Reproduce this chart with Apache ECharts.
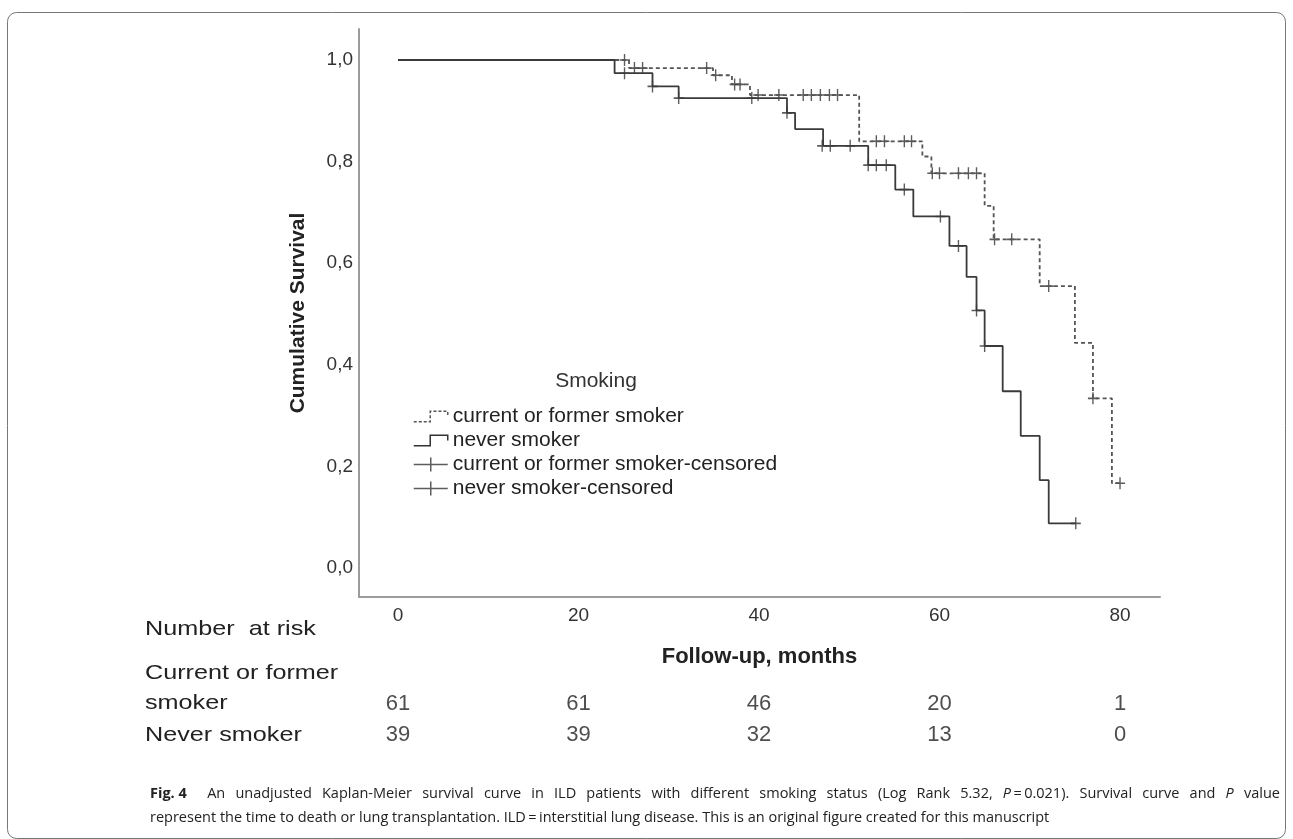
<!DOCTYPE html>
<html><head><meta charset="utf-8">
<script src="https://cdn.jsdelivr.net/npm/echarts@6/dist/echarts.min.js"></script>
<style>html,body{margin:0;padding:0;background:#fff}#c{width:1293px;height:839px}</style>
</head><body><div id="c"></div>
<script>
// Kaplan-Meier step curves (time in months, cumulative survival)
const currentTimes = [0, 25.6, 34.9, 37.0, 39.0, 51.1, 58.1, 59.1, 65.0, 66.0, 71.1, 75.0, 77.0, 79.1, 80.0];
const currentSurv  = [1.0, 0.984, 0.970, 0.952, 0.931, 0.840, 0.810, 0.777, 0.713, 0.647, 0.555, 0.443, 0.334, 0.167, 0.167];
const neverTimes = [0, 24.0, 28.2, 31.1, 43.1, 44.0, 47.1, 52.1, 55.1, 57.1, 61.1, 63.0, 64.1, 65.0, 67.0, 69.0, 71.1, 72.1, 75.1];
const neverSurv  = [1.0, 0.974, 0.948, 0.925, 0.896, 0.864, 0.831, 0.793, 0.745, 0.692, 0.634, 0.573, 0.507, 0.437, 0.348, 0.260, 0.173, 0.088, 0.088];
// censored observations
const currentCensTimes = [25.1, 26.2, 27.1, 34.2, 35.2, 37.3, 37.9, 39.9, 42.2, 44.9, 45.8, 46.8, 47.8, 48.7, 53.0, 53.9, 56.1, 56.9, 59.2, 60.0, 62.1, 63.2, 64.1, 66.1, 68.0, 72.1, 77.0, 80.0];
const currentCensSurv  = [1.0, 0.984, 0.984, 0.984, 0.970, 0.952, 0.952, 0.931, 0.931, 0.931, 0.931, 0.931, 0.931, 0.931, 0.840, 0.840, 0.840, 0.840, 0.777, 0.777, 0.777, 0.777, 0.777, 0.647, 0.647, 0.555, 0.334, 0.167];
const neverCensTimes = [25.1, 28.2, 31.1, 39.2, 43.1, 47.0, 47.9, 50.1, 52.1, 53.0, 54.1, 56.1, 60.1, 62.1, 64.1, 65.0, 75.1];
const neverCensSurv  = [0.974, 0.948, 0.925, 0.925, 0.896, 0.831, 0.831, 0.831, 0.793, 0.793, 0.793, 0.745, 0.692, 0.634, 0.507, 0.437, 0.088];
// axis ticks
const xTicks = [0, 20, 40, 60, 80];
const yTicks = [0, 0.2, 0.4, 0.6, 0.8, 1.0];
// number at risk
const riskTimes = [0, 20, 40, 60, 80];
const currentRisk = [61, 61, 46, 20, 1];
const neverRisk = [39, 39, 32, 13, 0];

const zip = (a, b) => a.map((v, i) => [v, b[i]]);
const SANS = "'Liberation Sans', Arial, sans-serif";
const CAP = "'Open Sans', 'Noto Sans', sans-serif";
const plusSym = 'path://M5,0 L5,12 M0,6 L10,6';
const stepIcon = 'path://M0,11 L16,11 L16,1 L33,1 L33,6';
const censIcon = 'path://M0,7 L34,7 M17,0 L17,14';
const XMIN = -4.32, XMAX = 84.43;

// caption: first line justified between x=150 and x=1280
const capFs = 14.5;
const line1 = [
  [['b', 'Fig. 4']], [['n', 'An']], [['n', 'unadjusted']], [['n', 'Kaplan-Meier']], [['n', 'survival']], [['n', 'curve']],
  [['n', 'in']], [['n', 'ILD']], [['n', 'patients']], [['n', 'with']], [['n', 'different']], [['n', 'smoking']],
  [['n', 'status']], [['n', '(Log']], [['n', 'Rank']], [['n', '5.32,']], [['i', 'P'], ['n', '\u2009=\u20090.021).']],
  [['n', 'Survival']], [['n', 'curve']], [['n', 'and']], [['i', 'P']], [['n', 'value']]
];
const ctx = document.createElement('canvas').getContext('2d');
const fontOf = k => (k === 'b' ? 'bold ' : k === 'i' ? 'italic ' : '') + capFs + "px 'Open Sans'";
let natural = 0;
line1.forEach(w => w.forEach(([k, t]) => { ctx.font = fontOf(k); natural += ctx.measureText(t).width; }));
const gaps = line1.length - 1 + 1; // extra gap after "Fig. 4"
const gapW = Math.max(3, (1130 - natural) / gaps);
const line1Text = line1.map((w, i) => w.map(([k, t]) => '{' + k + '|' + t + '}').join('') + (i === 0 ? '{g|\u00a0}' : '')).join('{g|\u00a0}');

const chart = echarts.init(document.getElementById('c'), null, {renderer: 'canvas'});
chart.setOption({
  animation: false,
  backgroundColor: '#fff',
  grid: [
    {left: 359, right: 133, top: 29, bottom: 242},
    {left: 359, right: 133, top: 688, height: 62}
  ],
  xAxis: [{
    type: 'value', gridIndex: 0, min: XMIN, max: XMAX,
    axisLine: {show: true, onZero: false, lineStyle: {color: '#9c9c9c', width: 2}},
    axisTick: {show: false}, splitLine: {show: false},
    axisLabel: {customValues: xTicks, margin: 9, fontSize: 19, fontFamily: SANS, color: '#333'},
    name: 'Follow-up, months', nameLocation: 'middle', nameGap: 49,
    nameTextStyle: {fontSize: 22, fontWeight: 'bold', fontFamily: SANS, color: '#222'}
  }, {
    type: 'value', gridIndex: 1, min: XMIN, max: XMAX, show: false
  }],
  yAxis: [{
    type: 'value', gridIndex: 0, min: -0.057, max: 1.061,
    axisLine: {show: true, onZero: false, lineStyle: {color: '#9c9c9c', width: 2}},
    axisTick: {show: false}, splitLine: {show: false},
    axisLabel: {customValues: yTicks, margin: 6, fontSize: 19, fontFamily: SANS, color: '#333',
      formatter: v => v.toFixed(1).replace('.', ',')},
    name: 'Cumulative Survival', nameLocation: 'middle', nameGap: 50,
    nameTextStyle: {fontSize: 21, fontWeight: 'bold', fontFamily: SANS, color: '#222'}
  }, {
    type: 'value', gridIndex: 1, min: 0, max: 2, show: false
  }],
  legend: {
    orient: 'vertical', left: 413, top: 406, itemWidth: 34, itemHeight: 14, itemGap: 3, padding: 0,
    textStyle: {fontSize: 21, fontFamily: SANS, color: '#222'},
    data: [
      {name: 'current or former smoker', icon: stepIcon, itemStyle: {color: 'transparent', borderColor: '#555', borderWidth: 1.5, borderType: [3, 2]}},
      {name: 'never smoker', icon: stepIcon, itemStyle: {color: 'transparent', borderColor: '#333', borderWidth: 1.5, borderType: 'solid'}},
      {name: 'current or former smoker-censored', icon: censIcon, itemStyle: {color: 'transparent', borderColor: '#333', borderWidth: 1.5}},
      {name: 'never smoker-censored', icon: censIcon, itemStyle: {color: 'transparent', borderColor: '#333', borderWidth: 1.5}}
    ]
  },
  series: [
    {name: 'current or former smoker', type: 'line', step: 'end', showSymbol: false, xAxisIndex: 0, yAxisIndex: 0,
      data: zip(currentTimes, currentSurv), lineStyle: {color: '#555', width: 1.8, type: [4, 3]}, itemStyle: {color: '#555'}},
    {name: 'never smoker', type: 'line', step: 'end', showSymbol: false, xAxisIndex: 0, yAxisIndex: 0,
      data: zip(neverTimes, neverSurv), lineStyle: {color: '#3a3a3a', width: 1.8}, itemStyle: {color: '#3a3a3a'}},
    {name: 'current or former smoker-censored', type: 'scatter', symbol: plusSym, symbolSize: [10, 12],
      data: zip(currentCensTimes, currentCensSurv), itemStyle: {color: 'transparent', borderColor: '#333', borderWidth: 1.5}},
    {name: 'never smoker-censored', type: 'scatter', symbol: plusSym, symbolSize: [10, 12],
      data: zip(neverCensTimes, neverCensSurv), itemStyle: {color: 'transparent', borderColor: '#333', borderWidth: 1.5}},
    {name: 'risk-current', type: 'scatter', xAxisIndex: 1, yAxisIndex: 1, symbolSize: 1,
      itemStyle: {color: 'transparent'}, silent: true,
      data: riskTimes.map((t, i) => ({value: [t, 1.5], label: {formatter: String(currentRisk[i])}})),
      label: {show: true, position: 'inside', fontSize: 22, fontFamily: SANS, color: '#222'}},
    {name: 'risk-never', type: 'scatter', xAxisIndex: 1, yAxisIndex: 1, symbolSize: 1,
      itemStyle: {color: 'transparent'}, silent: true,
      data: riskTimes.map((t, i) => ({value: [t, 0.5], label: {formatter: String(neverRisk[i])}})),
      label: {show: true, position: 'inside', fontSize: 22, fontFamily: SANS, color: '#222'}}
  ],
  graphic: [
    {type: 'rect', shape: {x: 7.5, y: 12.5, width: 1278, height: 826, r: 9}, style: {fill: 'none', stroke: '#777', lineWidth: 1}, silent: true},
    {type: 'text', x: 596, y: 381, style: {text: 'Smoking', fontSize: 21, fontFamily: SANS, fill: '#333', align: 'center', verticalAlign: 'middle'}},
    {type: 'text', x: 145, y: 629, scaleX: 1.2, style: {text: 'Number  at risk', fontSize: 21, fontFamily: SANS, fill: '#222', verticalAlign: 'middle'}},
    {type: 'text', x: 145, y: 673, scaleX: 1.2, style: {text: 'Current or former', fontSize: 21, fontFamily: SANS, fill: '#222', verticalAlign: 'middle'}},
    {type: 'text', x: 145, y: 703, scaleX: 1.2, style: {text: 'smoker', fontSize: 21, fontFamily: SANS, fill: '#222', verticalAlign: 'middle'}},
    {type: 'text', x: 145, y: 735, scaleX: 1.2, style: {text: 'Never smoker', fontSize: 21, fontFamily: SANS, fill: '#222', verticalAlign: 'middle'}},
    {type: 'text', x: 150, y: 794, style: {
      text: line1Text, verticalAlign: 'middle',
      fontSize: capFs, fontFamily: CAP, fill: '#222',
      rich: {b: {fontWeight: 'bold', fontSize: capFs, fontFamily: CAP, fill: '#222'},
             n: {fontSize: capFs, fontFamily: CAP, fill: '#222'},
             i: {fontStyle: 'italic', fontSize: capFs, fontFamily: CAP, fill: '#222'},
             g: {width: gapW, fontSize: capFs, fontFamily: CAP}}}},
    {type: 'text', x: 150, y: 818, style: {
      text: 'represent the time to death or lung transplantation. ILD\u2009=\u2009interstitial lung disease. This is an original figure created for this manuscript',
      verticalAlign: 'middle', fontSize: capFs, fontFamily: CAP, fill: '#222'}}
  ]
});
</script></body></html>
